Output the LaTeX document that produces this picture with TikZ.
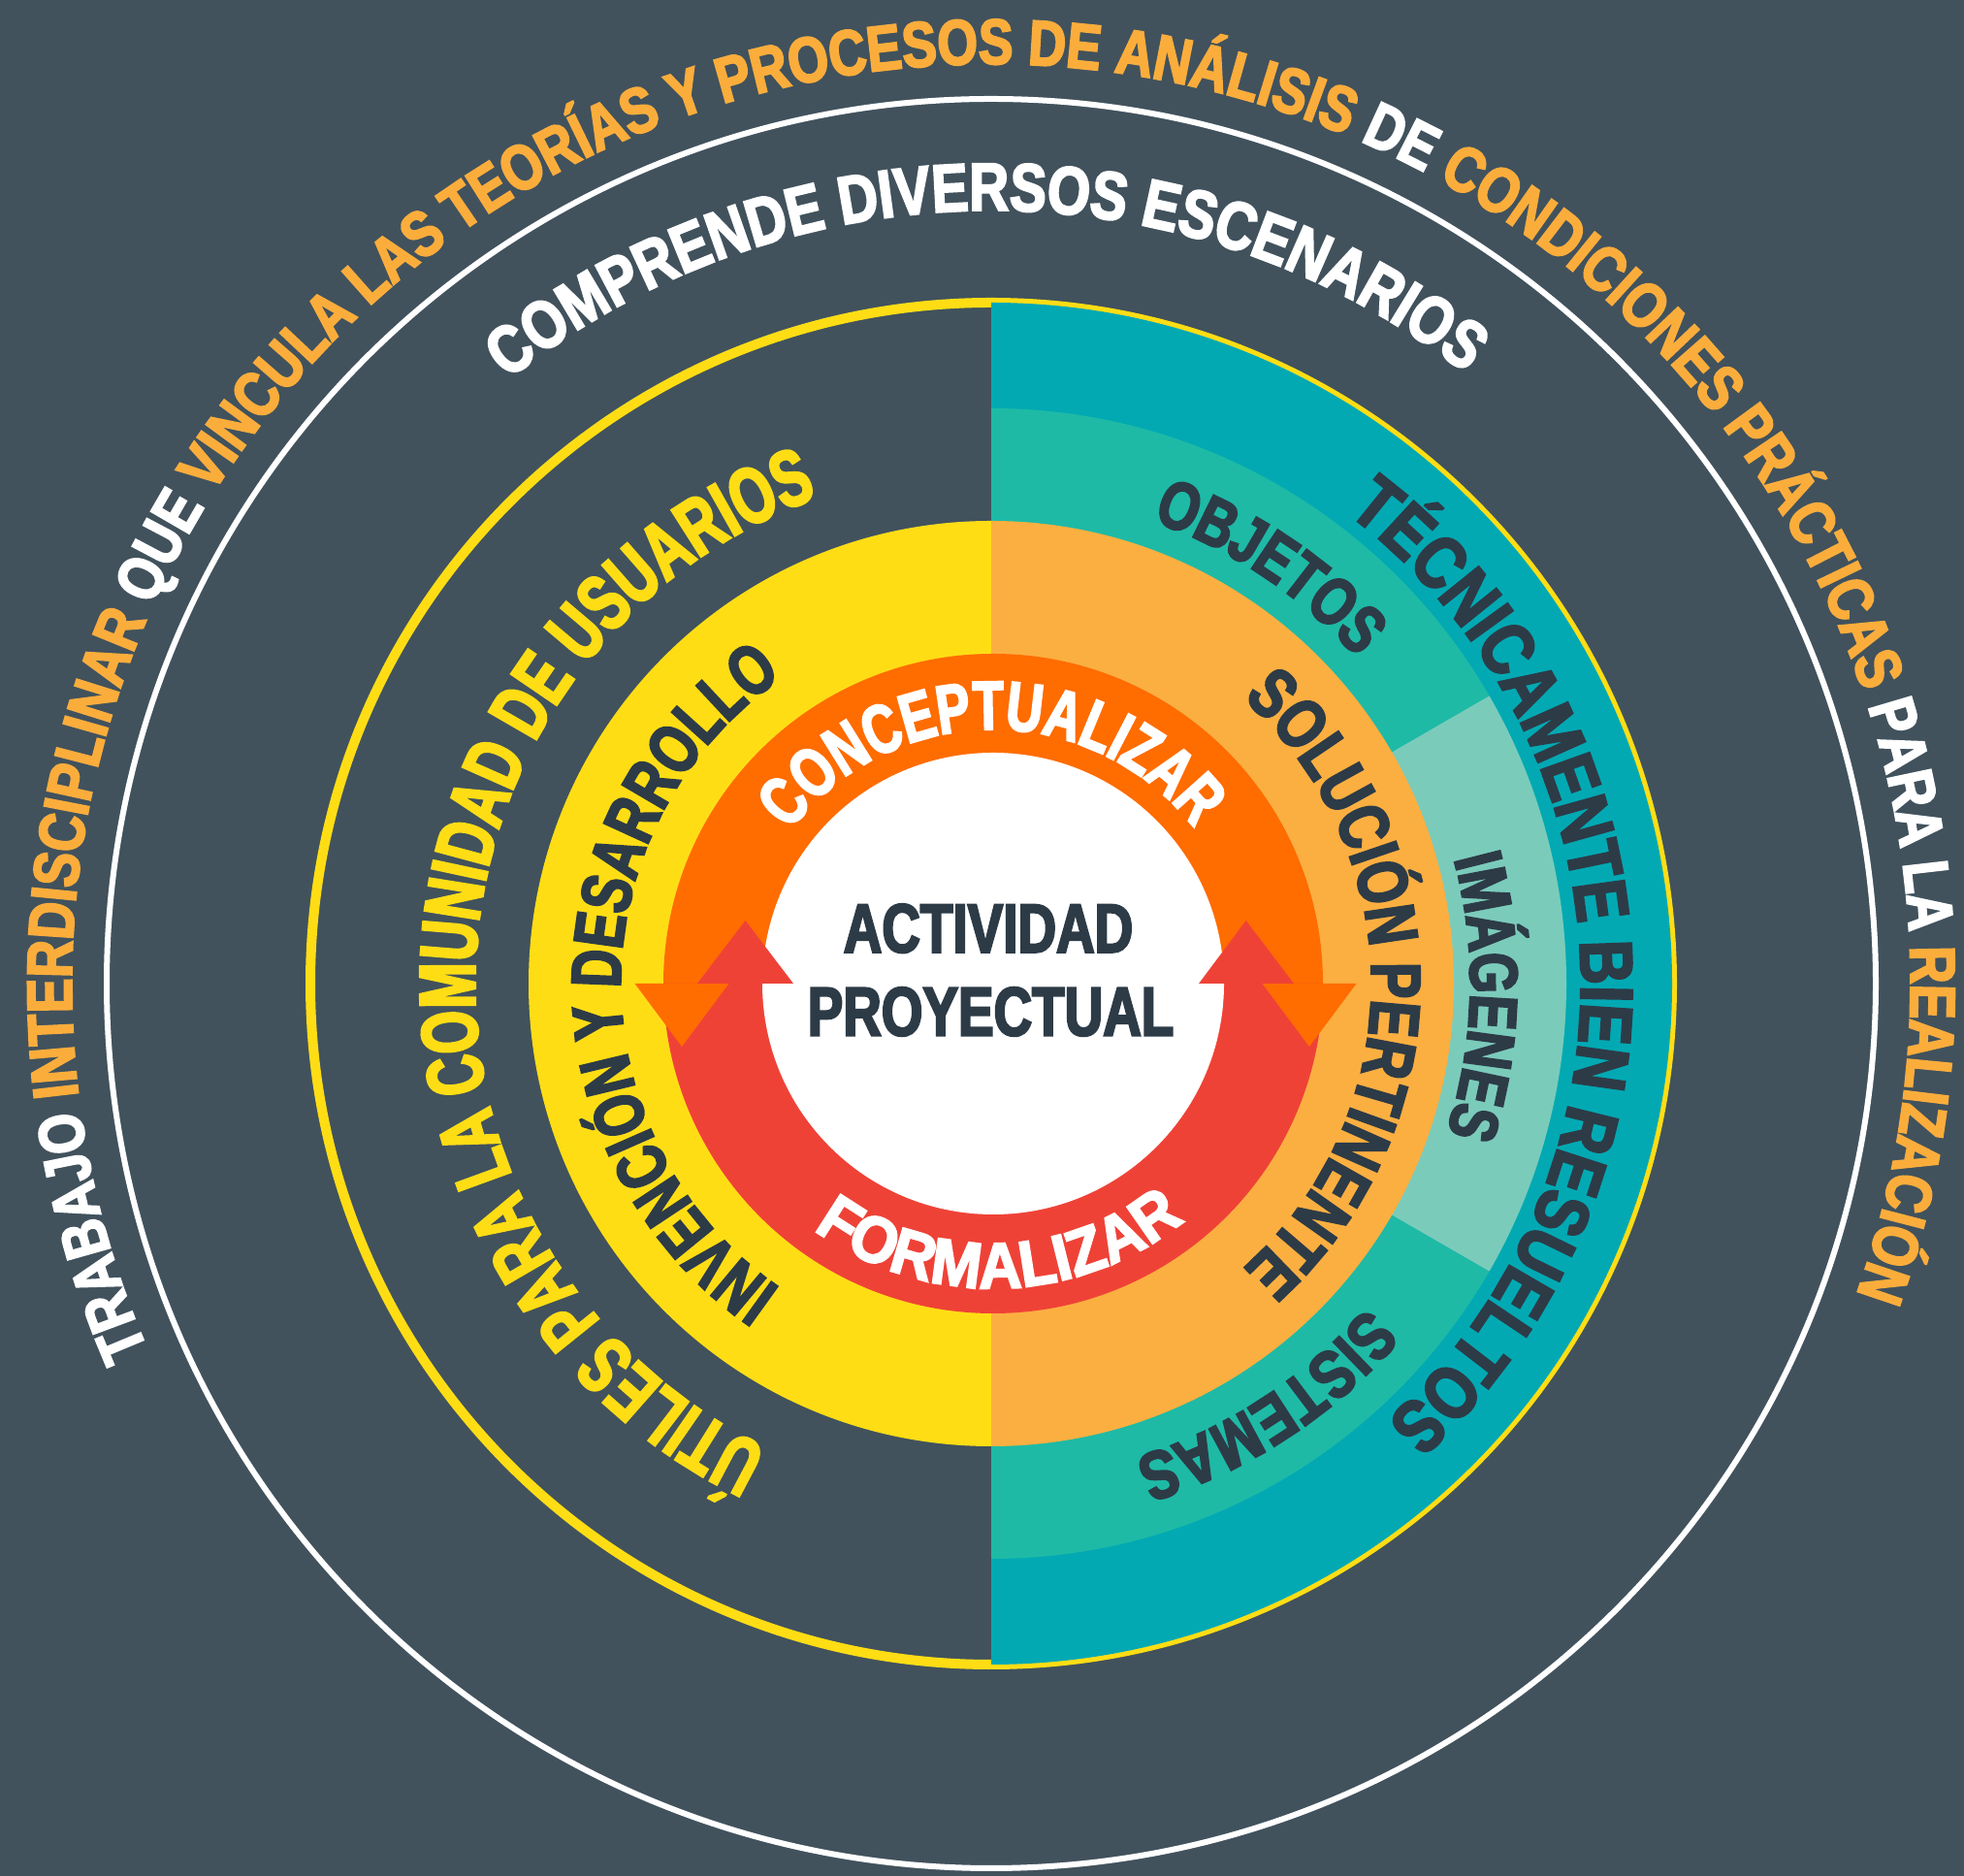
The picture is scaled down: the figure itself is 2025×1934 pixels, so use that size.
\documentclass[tikz,border=0pt]{standalone}
\usepackage{fontspec}
\setmainfont{Liberation Sans}
\newfontfamily\fOut[FakeStretch=0.81,FakeBold=3]{Liberation Sans}
\newfontfamily\fCom[FakeStretch=0.81,FakeBold=3]{Liberation Sans}
\newfontfamily\fUti[FakeStretch=0.69,FakeBold=3]{Liberation Sans}
\newfontfamily\fInv[FakeStretch=0.74,FakeBold=3]{Liberation Sans}
\newfontfamily\fCon[FakeStretch=0.73,FakeBold=3]{Liberation Sans}
\newfontfamily\fFor[FakeStretch=0.93,FakeBold=3]{Liberation Sans}
\newfontfamily\fSol[FakeStretch=0.77,FakeBold=3]{Liberation Sans}
\newfontfamily\fTec[FakeStretch=0.82,FakeBold=3]{Liberation Sans}
\usetikzlibrary{decorations.text}
\definecolor{bgc}{HTML}{41525D}
\definecolor{yelc}{HTML}{FFDD15}
\definecolor{lorc}{HTML}{FBAF41}
\definecolor{orc}{HTML}{FF6C00}
\definecolor{redc}{HTML}{EF4237}
\definecolor{tealc}{HTML}{02A9B3}
\definecolor{grnc}{HTML}{1EBAA6}
\definecolor{lgrc}{HTML}{7BCBBB}
\definecolor{dkc}{HTML}{2D3B47}
\definecolor{otc}{HTML}{FBAD3C}
\newcommand\fmtOut{\fOut\bfseries\fontsize{66}{66}\selectfont}
\newcommand\fmtCom{\fCom\bfseries\fontsize{69.8}{70}\selectfont}
\newcommand\fmtUti{\fUti\bfseries\fontsize{82.4}{83}\selectfont}
\newcommand\fmtInv{\fInv\bfseries\fontsize{72.6}{73}\selectfont}
\newcommand\fmtCon{\fCon\bfseries\fontsize{71.2}{72}\selectfont}
\newcommand\fmtFor{\fFor\bfseries\fontsize{67}{68}\selectfont}
\newcommand\fmtSol{\fSol\bfseries\fontsize{72.6}{73}\selectfont}
\newcommand\fmtObj{\fSol\bfseries\fontsize{69.8}{70}\selectfont}
\newcommand\fmtSis{\fCom\bfseries\fontsize{69.8}{70}\selectfont}
\newcommand\fmtTec{\fTec\bfseries\fontsize{76.8}{77}\selectfont}
\newcommand\ow{\fmtOut\color{white}}
\newcommand\oo{\fmtOut\color{otc}}
\tikzset{
  arctext/.style={decorate, decoration={text along path, text align=center, text={#1}}},
  ctrtext/.style={text=dkc, font=\fSol\bfseries\fontsize{71.2}{72}\selectfont, inner sep=0pt, anchor=base}
}
\begin{document}
\begin{tikzpicture}[x=1pt,y=1pt]
\useasboundingbox (0,0) rectangle (2025,1934);
\fill[bgc] (0,0) rectangle (2025,1934);
\coordinate (O) at (1022,920);
\coordinate (O2) at (1024,920);
% rings
\draw[white, line width=6pt] (O) circle[radius=912pt];
\draw[yelc, line width=10pt] (O) circle[radius=702pt];
\fill[tealc] ([shift={(90:702pt)}]O) arc[start angle=90, end angle=-90, radius=702pt] -- cycle;
\fill[grnc] ([shift={(90:593pt)}]O) arc[start angle=90, end angle=-90, radius=593pt] -- cycle;
\fill[lgrc] (O) -- ([shift={(30:593pt)}]O) arc[start angle=30, end angle=-30, radius=593pt] -- cycle;
\fill[yelc] ([shift={(90:477pt)}]O) arc[start angle=90, end angle=270, radius=477pt] -- cycle;
\fill[lorc] ([shift={(90:477pt)}]O) arc[start angle=90, end angle=-90, radius=477pt] -- cycle;
\fill[orc] ([shift={(0:340pt)}]O2) arc[start angle=0, end angle=180, radius=340pt] -- cycle;
\fill[redc] ([shift={(180:340pt)}]O2) arc[start angle=180, end angle=360, radius=340pt] -- cycle;
\fill[white] (O2) circle[radius=238pt];
% arrowheads
\fill[orc] (654.5,920) -- (751.5,920) -- (703,855) -- cycle;
\fill[orc] (1301.5,920) -- (1398.5,920) -- (1350,855) -- cycle;
\fill[redc] (719,920) -- (818,920) -- (768.5,985) -- cycle;
\fill[redc] (1236,920) -- (1334,920) -- (1284.7,985) -- cycle;
% centre text
\node[ctrtext] (act) at (1019,952.3) {ACTIVIDAD};
\node[ctrtext] (proy) at (1021.5,866.5) {PROYECTUAL};
% arc texts
\path[arctext={|\ow|TRABAJO |\oo|INTERDISCIPLINAR |\ow|QUE |\oo|VINCULA LAS TEORÍAS Y PROCESOS DE ANÁLISIS |\ow|DE |\oo|CONDICIONES PRÁCTICAS |\ow|PARA LA |\oo|REALIZACIÓN}]
  ([shift={(216.9:948pt)}]O) arc[start angle=216.9, end angle=-33.1, radius=948pt];
\path[arctext={|\fmtCom\color{white}|COMPRENDE DIVERSOS ESCENARIOS}]
  ([shift={(150.4:797pt)}]O) arc[start angle=150.4, end angle=30.4, radius=797pt];
\path[arctext={|\fmtUti\color{yelc}|ÚTILES PARA LA COMUNIDAD DE USUARIOS}]
  ([shift={(257:532pt)}]O) arc[start angle=257, end angle=97, radius=532pt];
\path[arctext={|\fmtInv\color{dkc}|INVENCIÓN Y DESARROLLO}]
  ([shift={(249.8:382pt)}]O) arc[start angle=249.8, end angle=109.8, radius=382pt];
\path[arctext={|\fmtCon\color{white}|CONCEPTUALIZAR}]
  ([shift={(155.4:262pt)}]O2) arc[start angle=155.4, end angle=25.4, radius=262pt];
\path[arctext={|\fmtFor\color{white}|FORMALIZAR}]
  ([shift={(211.4:314pt)}]O2) arc[start angle=211.4, end angle=331.4, radius=314pt];
\path[arctext={|\fmtSol\color{dkc}|SOLUCIÓN PERTINENTE}]
  ([shift={(60:392pt)}]O) arc[start angle=60, end angle=-60, radius=392pt];
\path[arctext={|\fmtObj\color{dkc}|OBJETOS}]
  ([shift={(81.25:505pt)}]O) arc[start angle=81.25, end angle=31.25, radius=505pt];
\path[arctext={|\fmtObj\color{dkc}|IMÁGENES}]
  ([shift={(23.45:494pt)}]O) arc[start angle=23.45, end angle=-26.55, radius=494pt];
\path[arctext={|\fmtSis\color{dkc}|SISTEMAS}]
  ([shift={(-31.95:511pt)}]O) arc[start angle=-31.95, end angle=-81.95, radius=511pt];
\path[arctext={|\fmtTec\color{dkc}|TÉCNICAMENTE BIEN RESUELTOS}]
  ([shift={(67.5:608pt)}]O) arc[start angle=67.5, end angle=-62.5, radius=608pt];
\end{tikzpicture}
\end{document}
